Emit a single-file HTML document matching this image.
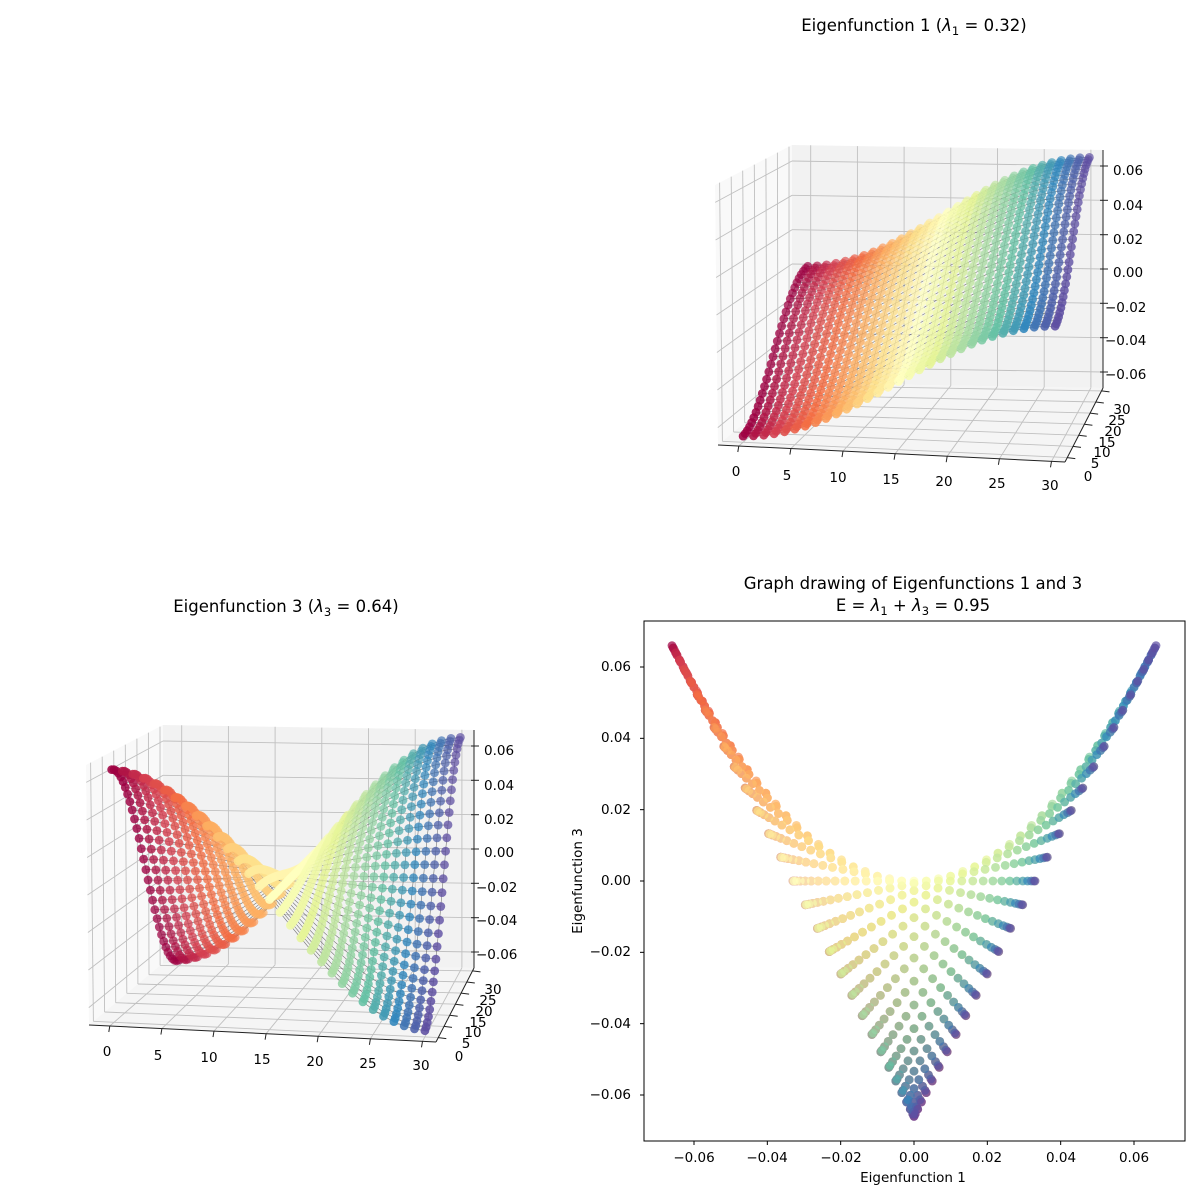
<!DOCTYPE html>
<html><head><meta charset="utf-8"><style>
html,body{margin:0;padding:0;background:#fff;}
svg{display:block;font-family:"DejaVu Sans","Liberation Sans",sans-serif;}
</style></head><body>
<svg id="s" width="1200" height="1200" viewBox="0 0 1200 1200" xmlns="http://www.w3.org/2000/svg">
<rect width="1200" height="1200" fill="#fff"/>
<g id="g3a"></g>
<g id="g3b"></g>
<g id="g2"></g>
<!-- titles -->
<text x="914" y="31" font-size="16.5" text-anchor="middle">Eigenfunction 1 (<tspan font-style="italic">λ</tspan><tspan font-size="11.5" dy="4">1</tspan><tspan dy="-4"> = 0.32)</tspan></text>
<text x="286" y="612" font-size="16.5" text-anchor="middle">Eigenfunction 3 (<tspan font-style="italic">λ</tspan><tspan font-size="11.5" dy="4">3</tspan><tspan dy="-4"> = 0.64)</tspan></text>
<text x="913" y="589" font-size="16.5" text-anchor="middle">Graph drawing of Eigenfunctions 1 and 3</text>
<text x="913" y="611" font-size="16.5" text-anchor="middle">E = <tspan font-style="italic">λ</tspan><tspan font-size="11.5" dy="4">1</tspan><tspan dy="-4"> + </tspan><tspan font-style="italic">λ</tspan><tspan font-size="11.5" dy="4">3</tspan><tspan dy="-4"> = 0.95</tspan></text>
<!-- top 3D tick labels -->
<g font-size="13.5" text-anchor="middle" dominant-baseline="central">
<text x="736" y="472">0</text><text x="787" y="476">5</text><text x="838" y="478">10</text><text x="891" y="480">15</text><text x="944" y="482">20</text><text x="997" y="484">25</text><text x="1050" y="486">30</text>
<text x="1088" y="477">0</text><text x="1095" y="464">5</text><text x="1102" y="453">10</text><text x="1107" y="443">15</text><text x="1113" y="432">20</text><text x="1117" y="421">25</text><text x="1122" y="410">30</text>
</g>
<g font-size="13.5" dominant-baseline="central">
<text x="1113" y="171">0.06</text><text x="1113" y="206">0.04</text><text x="1113" y="240">0.02</text><text x="1113" y="273">0.00</text><text x="1105" y="308">−0.02</text><text x="1105" y="341">−0.04</text><text x="1105" y="375">−0.06</text>
</g>
<!-- bottom 3D tick labels -->
<g font-size="13.5" text-anchor="middle" dominant-baseline="central">
<text x="107" y="1052">0</text><text x="158" y="1056">5</text><text x="209" y="1058">10</text><text x="262" y="1060">15</text><text x="315" y="1062">20</text><text x="368" y="1064">25</text><text x="421" y="1066">30</text>
<text x="459" y="1057">0</text><text x="466" y="1044">5</text><text x="473" y="1033">10</text><text x="478" y="1023">15</text><text x="484" y="1012">20</text><text x="488" y="1001">25</text><text x="493" y="990">30</text>
</g>
<g font-size="13.5" dominant-baseline="central">
<text x="484" y="751">0.06</text><text x="484" y="786">0.04</text><text x="484" y="820">0.02</text><text x="484" y="853">0.00</text><text x="476" y="888">−0.02</text><text x="476" y="921">−0.04</text><text x="476" y="955">−0.06</text>
</g>
<!-- 2D axes labels -->
<g font-size="13.5" text-anchor="middle" dominant-baseline="central">
<text x="694" y="1158">−0.06</text><text x="767" y="1158">−0.04</text><text x="841" y="1158">−0.02</text><text x="914" y="1158">0.00</text><text x="987" y="1158">0.02</text><text x="1061" y="1158">0.04</text><text x="1134" y="1158">0.06</text>
</g>
<g font-size="13.5" text-anchor="end" dominant-baseline="central">
<text x="631" y="667">0.06</text><text x="631" y="738">0.04</text><text x="631" y="810">0.02</text><text x="631" y="881">0.00</text><text x="631" y="952">−0.02</text><text x="631" y="1024">−0.04</text><text x="631" y="1095">−0.06</text>
</g>
<text x="913" y="1182" font-size="13.5" text-anchor="middle">Eigenfunction 1</text>
<text x="0" y="0" font-size="13.5" text-anchor="middle" transform="translate(582,881) rotate(-90)">Eigenfunction 3</text>
</svg>
<script>
(function(){
var NS="http://www.w3.org/2000/svg";
function el(p,t,a){var e=document.createElementNS(NS,t);for(var k in a)e.setAttribute(k,a[k]);p.appendChild(e);return e;}
var S=['#9e0142','#d53e4f','#f46d43','#fdae61','#fee08b','#ffffbf','#e6f598','#abdda4','#66c2a5','#3288bd','#5e4fa2'];
function hx(h){return [parseInt(h.substr(1,2),16),parseInt(h.substr(3,2),16),parseInt(h.substr(5,2),16)];}
function cmap(t){t=Math.max(0,Math.min(1,t));var f=t*10,i=Math.min(9,Math.floor(f)),r=f-i;var a=hx(S[i]),b=hx(S[i+1]);
return 'rgb('+Math.round(a[0]+(b[0]-a[0])*r)+','+Math.round(a[1]+(b[1]-a[1])*r)+','+Math.round(a[2]+(b[2]-a[2])*r)+')';}
var N=31;var c0=Math.cos(Math.PI*0.5/N);
function u(x){return -Math.cos(Math.PI*(x+0.5)/N)/c0;}
function ef1(x,y){return 0.033*(u(x)+u(y));}
function ef3(x,y){return 0.066*u(x)*u(y);}
var C={FLB:[718,445],FRB:[1065,462],BLB:[792,383],BRB:[1103,388],FLT:[715,185],FRT:[1068,199],BLT:[792,145],BRT:[1103,150]};
function L(a,b,t){return [a[0]+(b[0]-a[0])*t,a[1]+(b[1]-a[1])*t];}
function tri(U,V,W,dx,dy){
var fb=L(C.FLB,C.FRB,U),bb=L(C.BLB,C.BRB,U),ft=L(C.FLT,C.FRT,U),bt=L(C.BLT,C.BRT,U);
var b=L(fb,bb,V),t=L(ft,bt,V),p=L(b,t,W);return [p[0]+dx,p[1]+dy];}
var XMIN=-2,XMAX=31.3,ZL=0.0693;
function fu(x){return (x-XMIN)/(XMAX-XMIN);}
function fw(z){return (z+ZL)/(2*ZL);}
function draw3d(g,dx,dy,f){
function P(U,V,W){return tri(U,V,W,dx,dy);}
function poly(pts,fill){el(g,'polygon',{points:pts.map(function(p){return p[0].toFixed(1)+','+p[1].toFixed(1)}).join(' '),fill:fill,stroke:'none'});}
function line(a,b,st,w,op){el(g,'line',{x1:a[0].toFixed(1),y1:a[1].toFixed(1),x2:b[0].toFixed(1),y2:b[1].toFixed(1),stroke:st,'stroke-width':w,'stroke-opacity':op||1});}
poly([P(0,0,0),P(0,1,0),P(0,1,1),P(0,0,1)],'#f9f9f9');
poly([P(0,1,0),P(1,1,0),P(1,1,1),P(0,1,1)],'#f2f2f2');
poly([P(0,0,0),P(1,0,0),P(1,1,0),P(0,1,0)],'#f5f5f5');
var gc='#c0c0c0',gw=0.9;
for(var t=0;t<=30;t+=5){var a=fu(t);
line(P(a,0,0),P(a,1,0),gc,gw);line(P(0,a,0),P(1,a,0),gc,gw);
line(P(a,1,0),P(a,1,1),gc,gw);line(P(0,a,0),P(0,a,1),gc,gw);}
for(var z=-0.06;z<0.0601;z+=0.02){var w=fw(z);
line(P(0,1,w),P(1,1,w),gc,gw);line(P(0,0,w),P(0,1,w),gc,gw);}
line(P(0,0,0),P(1,0,0),'#222',1);line(P(1,0,0),P(1,1,0),'#222',1);line(P(1,1,0),P(1,1,1),'#222',1);
for(var t=0;t<=30;t+=5){var a=fu(t);var p=P(a,0,0);line(p,[p[0]-1,p[1]+6],'#222',1);
var q=P(1,a,0);line(q,[q[0]+8,q[1]+1],'#222',1);}
for(var z=-0.06;z<0.0601;z+=0.02){var p=P(1,1,fw(z));line([p[0]-3,p[1]],[p[0]+5,p[1]],'#222',1);}
var pts=[];
for(var x=0;x<N;x++)for(var y=0;y<N;y++){pts.push({x:x,y:y,p:P(fu(x),fu(y),fw(f(x,y)))});}
var ed=el(g,'g',{stroke:'#222','stroke-width':0.6,'stroke-opacity':0.6});
var d='';
pts.forEach(function(o){var x=o.x,y=o.y;
if(x<N-1){var q=P(fu(x+1),fu(y),fw(f(x+1,y)));d+='M'+o.p[0].toFixed(1)+' '+o.p[1].toFixed(1)+'L'+q[0].toFixed(1)+' '+q[1].toFixed(1);}
if(y<N-1){var q=P(fu(x),fu(y+1),fw(f(x,y+1)));d+='M'+o.p[0].toFixed(1)+' '+o.p[1].toFixed(1)+'L'+q[0].toFixed(1)+' '+q[1].toFixed(1);}});
el(ed,'path',{d:d,fill:'none'});
pts.sort(function(a,b){return (b.y-a.y)||(a.x-b.x);});
pts.forEach(function(o){var v=o.y/30;el(g,'circle',{cx:o.p[0].toFixed(1),cy:o.p[1].toFixed(1),r:4.4,fill:cmap(o.x/30),'fill-opacity':(0.88-0.2*v).toFixed(2)});});
}
draw3d(document.getElementById('g3a'),0,0,ef1);
draw3d(document.getElementById('g3b'),-629,580,ef3);
var g=document.getElementById('g2');
var bx0=644,by0=621,bx1=1185,by1=1141;
function X(v){return 914+v*3666.7;}function Y(v){return 881-v*3566.7;}
for(var x=0;x<N;x++)for(var y=0;y<N;y++){el(g,'circle',{cx:X(ef1(x,y)).toFixed(1),cy:Y(ef3(x,y)).toFixed(1),r:4.4,fill:cmap(x/30),'fill-opacity':0.72});}
el(g,'rect',{x:bx0,y:by0,width:bx1-bx0,height:by1-by0,fill:'none',stroke:'#000','stroke-width':1});
for(var k=-3;k<=3;k++){var v=k*0.02;
el(g,'line',{x1:X(v),y1:by1,x2:X(v),y2:by1+4,stroke:'#000','stroke-width':1});
el(g,'line',{x1:bx0,y1:Y(v),x2:bx0-4,y2:Y(v),stroke:'#000','stroke-width':1});}
})();
</script>
</body></html>
